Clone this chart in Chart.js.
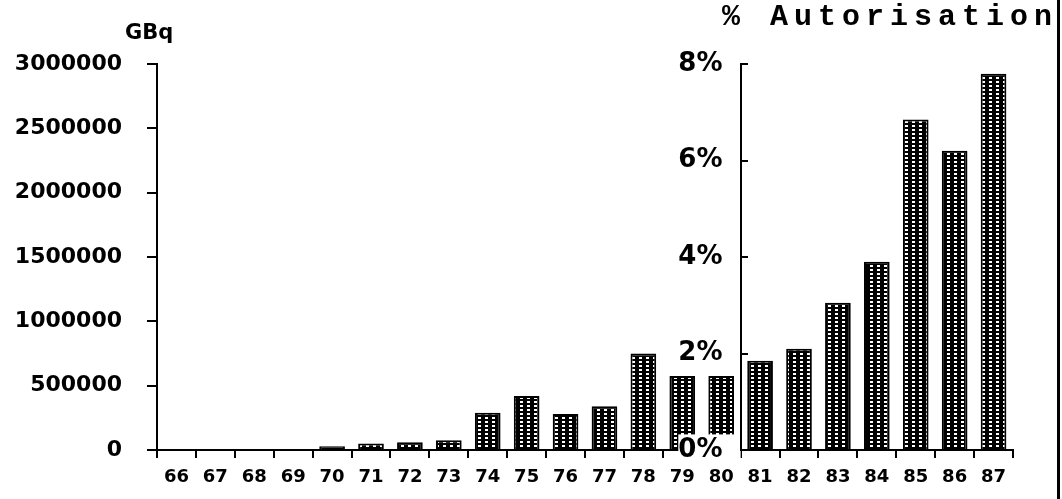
<!DOCTYPE html>
<html>
<head>
<meta charset="utf-8">
<script src="https://cdn.jsdelivr.net/npm/chart.js"></script>
<style>
  html, body { margin: 0; padding: 0; background: #fff; }
  #wrap { position: relative; width: 1062px; height: 499px; }
  #grafico { position: absolute; left: 0; top: 0; }
  .unidad { position: absolute; left: 125px; top: 20px; font: bold 21px "DejaVu Sans"; color: #000; }
  .titulo { position: absolute; left: 722px; top: 0px; font: bold 30px "Liberation Mono"; letter-spacing: 6px; color: #000; white-space: nowrap; }
  .borde { position: absolute; left: 1057px; top: 0; width: 3px; height: 499px; background: #000; }
</style>
</head>
<body>
<div id="wrap">
  <canvas id="grafico" width="1062" height="499"></canvas>
  <div class="unidad">GBq</div>
  <div class="titulo">% Autorisation</div>
  <div class="borde"></div>
</div>
<script>
// années
const annees = ["66", "67", "68", "69", "70", "71", "72", "73", "74", "75", "76",
                "77", "78", "79", "80", "81", "82", "83", "84", "85", "86", "87"];

const rejetsGBq = [0, 0, 0, 0, 30000, 50000, 60000, 75000, 290000, 420000, 280000,
                   340000, 750000, 575000, 575000, null, null, null, null, null, null, null];

const pctAutorisation = [null, null, null, null, null, null, null, null, null, null, null,
                         null, null, null, null, 1.85, 2.1, 3.05, 3.9, 6.85, 6.2, 7.8];

const ticksGBq = [0, 500000, 1000000, 1500000, 2000000, 2500000, 3000000];
const ticksPct = [0, 2, 4, 6, 8];

window.addEventListener("load", () => {
  const ctx = document.getElementById("grafico").getContext("2d");

  // motif des barres : noir avec petits tirets blancs
  const tuile = document.createElement("canvas");
  tuile.width = 7;
  tuile.height = 4;
  const t = tuile.getContext("2d");
  t.fillStyle = "#000";
  t.fillRect(0, 0, 7, 4);
  t.fillStyle = "#fff";
  t.fillRect(2, 1, 3, 2);
  const motif = ctx.createPattern(tuile, "repeat");

  const barres = {
    backgroundColor: motif,
    borderColor: "#000",
    borderWidth: 2,
    barPercentage: 0.66,
    categoryPercentage: 1,
    grouped: false
  };

  new Chart(ctx, {
    type: "bar",
    data: {
      labels: annees,
      datasets: [
        Object.assign({ label: "GBq", data: rejetsGBq, yAxisID: "y" }, barres),
        Object.assign({ label: "% Autorisation", data: pctAutorisation, yAxisID: "y2" }, barres)
      ]
    },
    options: {
      responsive: false,
      animation: false,
      layout: { padding: { top: 64, right: 49 } },
      plugins: { legend: { display: false }, tooltip: { enabled: false } },
      scales: {
        x: {
          grid: { display: true, drawOnChartArea: false, color: "#000", lineWidth: 2, tickLength: 8, offset: true },
          border: { color: "#000", width: 2 },
          ticks: { color: "#000", font: { family: "DejaVu Sans", weight: "bold", size: 18 }, padding: 9, maxRotation: 0, autoSkip: false },
          afterFit: s => { s.height = 49; }
        },
        y: {
          min: 0,
          max: 3000000,
          afterBuildTicks: s => { s.ticks = ticksGBq.map(v => ({ value: v })); },
          grid: { drawOnChartArea: false, color: "#000", lineWidth: 2, tickLength: 10 },
          border: { color: "#000", width: 2 },
          ticks: { color: "#000", font: { family: "DejaVu Sans", weight: "bold", size: 22 }, padding: 25, callback: v => String(v) },
          afterFit: s => { s.width = 157; }
        },
        y2: {
          position: { x: 14.5 },
          min: 0,
          max: 8,
          afterBuildTicks: s => { s.ticks = ticksPct.map(v => ({ value: v })); },
          grid: { drawOnChartArea: false, color: "#000", lineWidth: 2, tickLength: -8, z: 2 },
          border: { color: "#000", width: 2, z: 2 },
          ticks: {
            color: "#000",
            font: { family: "DejaVu Sans", weight: "bold", size: 26 },
            z: 1,
            showLabelBackdrop: true,
            backdropColor: "#fff",
            backdropPadding: 0,
            // espace après le % pour écarter l'étiquette de l'axe
            callback: v => v + "%\u2002\u2009"
          }
        }
      }
    }
  });
});
</script>
</body>
</html>
